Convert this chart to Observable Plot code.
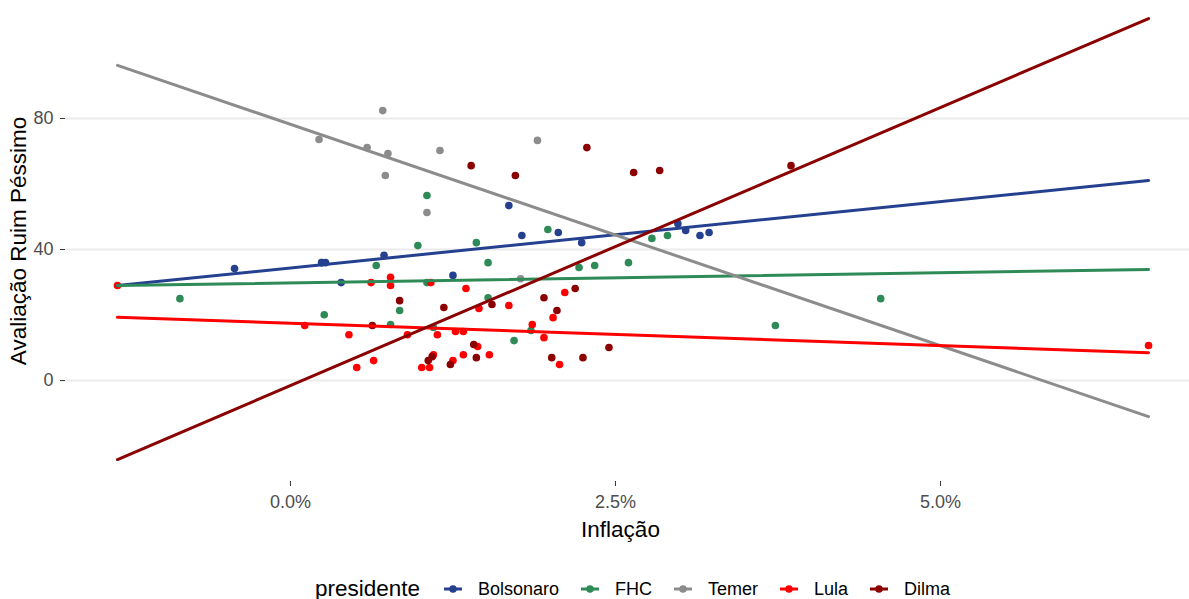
<!DOCTYPE html>
<html>
<head>
<meta charset="utf-8">
<script src="https://cdn.jsdelivr.net/npm/d3@7"></script>
<script src="https://cdn.jsdelivr.net/npm/@observablehq/plot@0.6"></script>
<style>
  body { margin: 0; background: #fff; font-family: "Liberation Sans", Arial, sans-serif; }
  #chart svg { display: block; }
  #legend { display: flex; align-items: center; justify-content: center; height: 88px; padding-left: 98px; box-sizing: border-box; width: 1189px; }
  #legend .title { font-size: 22.5px; color: #000; margin-right: 24px; }
  #legend .key { display: inline-block; margin-right: 16px; }
  #legend .key svg { display: block; }
  #legend .lab { font-size: 18px; color: #000; margin-right: 22px; }
</style>
</head>
<body>
<div id="chart"></div>
<div id="legend"></div>
<script>
// presidents in legend order and their colours
const presidentes = ["Bolsonaro", "FHC", "Temer", "Lula", "Dilma"];
const cores = ["#25408f", "#2e8b57", "#8c8c8c", "#ff0000", "#8b0000"];

// monthly points: [inflação (%), avaliação ruim/péssimo (%)]
const bolsonaro = [
  [-0.43, 34.2], [0.24, 36.0], [0.27, 36.0], [0.39, 29.9], [0.72, 38.2], [1.25, 32.1],
  [1.68, 53.4], [1.78, 44.3], [2.06, 45.2], [2.24, 42.1], [2.98, 47.9], [3.04, 45.8],
  [3.15, 44.3], [3.22, 45.2]
];
const fhc = [
  [-0.85, 25.0], [0.24, 36.0], [0.26, 20.1], [0.66, 35.1], [0.77, 17.1], [0.84, 21.4],
  [0.98, 41.2], [1.05, 56.5], [1.05, 29.9], [1.10, 16.2], [1.43, 42.1], [1.52, 36.0],
  [1.52, 25.3], [1.72, 12.2], [1.85, 15.3], [1.98, 46.1], [2.22, 34.5], [2.34, 35.1],
  [2.60, 36.0], [2.78, 43.4], [2.90, 44.3], [3.73, 16.8], [4.54, 25.0]
];
const temer = [
  [0.22, 73.6], [0.71, 82.4], [0.59, 71.1], [0.75, 69.3], [0.73, 62.6], [1.15, 70.2],
  [1.90, 73.3], [1.05, 51.3], [1.77, 31.1]
];
const lula = [
  [-1.33, 29.0], [0.11, 16.8], [0.45, 14.0], [0.51, 4.0], [0.62, 29.9], [0.64, 6.1],
  [0.77, 31.5], [0.77, 29.0], [0.90, 14.0], [1.01, 4.0], [1.07, 4.0], [1.08, 29.9],
  [1.10, 7.9], [1.13, 14.0], [1.25, 6.1], [1.27, 15.0], [1.33, 15.0], [1.33, 7.9],
  [1.35, 28.1], [1.44, 10.4], [1.45, 22.0], [1.53, 7.9], [1.68, 22.9], [1.86, 17.1],
  [1.95, 13.1], [2.02, 19.2], [2.07, 4.9], [2.11, 26.9], [6.60, 10.7]
];
const dilma = [
  [0.63, 16.8], [0.84, 24.4], [1.06, 6.1], [1.09, 7.3], [1.18, 22.3], [1.23, 4.9],
  [1.39, 65.6], [1.41, 11.0], [1.43, 7.0], [1.55, 23.2], [1.73, 62.6], [1.95, 25.3],
  [2.01, 7.0], [2.05, 21.4], [2.19, 28.1], [2.25, 7.0], [2.28, 71.1], [2.45, 10.1],
  [2.64, 63.5], [2.84, 64.1], [3.85, 65.6]
];

// linear fits evaluated across the full inflation range
const fitInflacao = [-1.33, 6.60];
const fitInicio = [29.0, 29.0, 96.2, 19.3, -24.1];
const fitFim = [61.1, 33.9, -11.0, 8.5, 110.5];

const xTicks = [0, 2.5, 5];
const yTicks = [0, 40, 80];

const series = { Bolsonaro: bolsonaro, FHC: fhc, Temer: temer, Lula: lula, Dilma: dilma };
const drawOrder = ["FHC", "Temer", "Lula", "Bolsonaro", "Dilma"];
const pontos = drawOrder.flatMap(p => series[p].map(([x, y]) => ({ presidente: p, inflacao: x, avaliacao: y })));
const retas = presidentes.flatMap((p, i) => [
  { presidente: p, inflacao: fitInflacao[0], avaliacao: fitInicio[i] },
  { presidente: p, inflacao: fitInflacao[1], avaliacao: fitFim[i] }
]);

const chart = Plot.plot({
  width: 1189,
  height: 545,
  marginLeft: 65,
  marginRight: 0,
  marginTop: 0,
  marginBottom: 64,
  style: { fontFamily: "'Liberation Sans', Arial, sans-serif", fontSize: "18px", background: "#fff" },
  x: { domain: [-1.73, 6.915] },
  y: { domain: [-30.8, 116] },
  color: { domain: presidentes, range: cores },
  marks: [
    Plot.gridY(yTicks, { stroke: "#ebebeb", strokeOpacity: 1, strokeWidth: 2 }),
    Plot.axisX(xTicks, {
      tickFormat: d => d.toFixed(1) + "%", tickSize: 5, tickPadding: 9,
      stroke: "#333", color: "#4d4d4d", fontSize: 18, label: null
    }),
    Plot.axisY(yTicks, {
      tickSize: 5, tickPadding: 7, stroke: "#333", color: "#4d4d4d", fontSize: 18, label: null
    }),
    Plot.dot(pontos, { x: "inflacao", y: "avaliacao", fill: "presidente", r: 3.8, stroke: "none" }),
    Plot.line(retas, { x: "inflacao", y: "avaliacao", stroke: "presidente", z: "presidente", strokeWidth: 3 }),
    Plot.text(["Inflação"], { text: d => d, frameAnchor: "bottom", dy: 48, dx: -7, fontSize: 22.5, fill: "#000", lineAnchor: "middle" }),
    Plot.text(["Avaliação Ruim Péssimo"], { text: d => d, frameAnchor: "left", dx: -47, rotate: -90, textAnchor: "middle", fontSize: 22.5, fill: "#000", lineAnchor: "middle" })
  ]
});
document.getElementById("chart").appendChild(chart);

// legend: title followed by a line-and-dot key for each president
const legend = document.getElementById("legend");
const t = document.createElement("span");
t.className = "title";
t.textContent = "presidente";
legend.appendChild(t);
presidentes.forEach((p, i) => {
  const k = document.createElement("span");
  k.className = "key";
  k.innerHTML = `<svg width="18" height="14"><line x1="0" x2="18" y1="7" y2="7" stroke="${cores[i]}" stroke-width="3"/><circle cx="9" cy="7" r="3.8" fill="${cores[i]}"/></svg>`;
  legend.appendChild(k);
  const l = document.createElement("span");
  l.className = "lab";
  l.textContent = p;
  legend.appendChild(l);
});
</script>
</body>
</html>
